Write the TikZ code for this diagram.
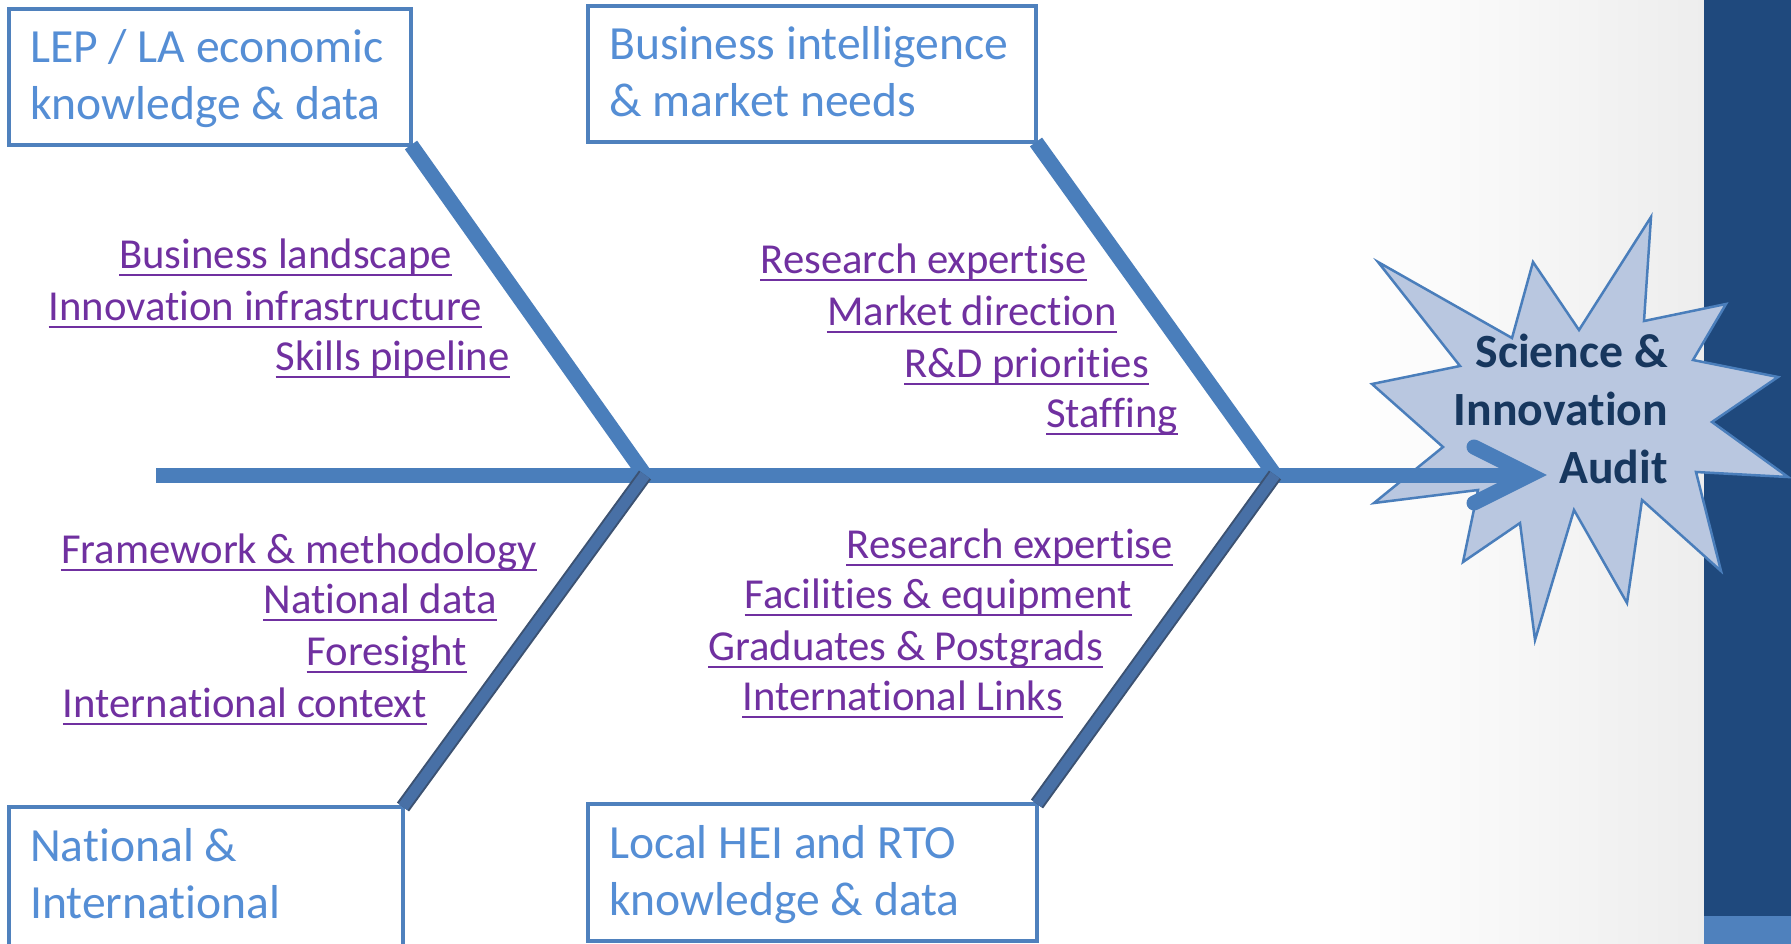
\documentclass[tikz,border=0pt]{standalone}
\usepackage{fontspec}
\setmainfont{Carlito}[Ligatures={NoCommon}]
\usetikzlibrary{calc}
\definecolor{boxblue}{HTML}{4F81BD}
\definecolor{spineblue}{HTML}{4A7EBB}
\definecolor{boxtext}{HTML}{558ED5}
\definecolor{lblpurple}{HTML}{7030A0}
\definecolor{starfill}{HTML}{B9C7E0}
\definecolor{navy}{HTML}{17375E}
\definecolor{barblue}{HTML}{1F497D}
\definecolor{lowbone}{HTML}{4870A6}
\definecolor{lowedge}{HTML}{3C5272}
\begin{document}
\begin{tikzpicture}[x=1pt,y=-1pt,
  catbox/.style={draw=boxblue, line width=4.5pt, fill=white, inner sep=0pt, outer sep=0pt, anchor=north west},
  cattext/.style={font=\fontsize{47.6}{57}\selectfont, text=boxtext, align=left, anchor=base west, inner sep=0pt},
  lbl/.style={font=\fontsize{42.7}{50}\selectfont, text=lblpurple, anchor=base east, inner sep=0pt},
  ulline/.style={draw=lblpurple, line width=2.5pt},
  spine/.style={draw=spineblue, line width=15pt},
  upbone/.style={draw=spineblue, line width=15pt},
  lowbonestyle/.style={draw=lowedge, line width=2pt, double=lowbone, double distance=11pt},
  startext/.style={font=\bfseries\fontsize{47.7}{58}\selectfont, text=navy, align=right, anchor=base east, inner sep=0pt}
]
\useasboundingbox (0,0) rectangle (1791,944);
\clip (0,0) rectangle (1791,944);
\fill[white] (0,0) rectangle (1791,944);
\shade[left color=white, right color=black!7] (1350,0) rectangle (1704,944);
\fill[barblue] (1704,0) rectangle (1791,916);
\fill[boxblue] (1704,916) rectangle (1791,944);

% star
\draw[draw=spineblue, fill=starfill, line width=2.5pt, line join=miter]
  (1378,262) -- (1512,338) -- (1533,262) -- (1579,330) -- (1651,217) -- (1644,321)
  -- (1726,304) -- (1693,360) -- (1778,377) -- (1712,422) -- (1788,477) -- (1696,472)
  -- (1721,571) -- (1642,500) -- (1627,603) -- (1574,510) -- (1535,640) -- (1520,523)
  -- (1463,562) -- (1478,490) -- (1374,503) -- (1443,447) -- (1372,384) -- (1460,366) -- cycle;
\node[startext] (audit) at (1668,483) {Science \&\\Innovation\\Audit};

% boxes
\node[catbox, minimum width=402pt, minimum height=136pt] (box1) at (9,9) {};
\node[catbox, minimum width=448pt, minimum height=136pt] (box2) at (588,6) {};
\node[catbox, minimum width=394pt, minimum height=200pt] (box3) at (9,807) {};
\node[catbox, minimum width=449pt, minimum height=137pt] (box4) at (588,804) {};
\node[cattext] (t1) at (30,120) {LEP / LA economic\\knowledge \& data};
\node[cattext] (t2) at (609,117) {Business intelligence\\\& market needs};
\node[cattext] (t3) at (30,918) {National \&\\International};
\node[cattext] (t4) at (609,915) {Local HEI and RTO\\knowledge \& data};

% spine and bones
\coordinate (tail) at (156,475);
\coordinate (j1) at (645,475);
\coordinate (j2) at (1275,475);
\coordinate (tip) at (1530,475);
\draw[spine] (tail) -- (tip);
\draw[spine, line cap=round, line join=miter] ($(tip)+(-56,-28)$) -- (tip) -- ($(tip)+(-56,28)$);
\draw[upbone] (box1.south east) -- (j1);
\draw[upbone] (box2.south east) -- (j2);
\draw[lowbonestyle] (box3.north east) -- (j1);
\draw[lowbonestyle] (box4.north east) -- (j2);

% labels
\foreach \n/\t/\x/\y in {
  l1/{Business landscape}/452/268,
  l2/{Innovation infrastructure}/482/320,
  l3/{Skills pipeline}/510/370,
  l4/{Research expertise}/1087/273,
  l5/{Market direction}/1117/325,
  l6/{R\&D priorities}/1149/377,
  l7/{Staffing}/1178/427,
  l8/{Framework \& methodology}/537/563,
  l9/{National data}/497/613,
  l10/{Foresight}/467/665,
  l11/{International context}/427/717,
  l12/{Research expertise}/1173/558,
  l13/{Facilities \& equipment}/1132/608,
  l14/{Graduates \& Postgrads}/1103/660,
  l15/{International Links}/1063/710}{
  \node[lbl] (\n) at (\x,\y) {\t};
  \draw[ulline] ([yshift=-7pt]\n.base west) -- ([yshift=-7pt]\n.base east);
}
\end{tikzpicture}
\end{document}
